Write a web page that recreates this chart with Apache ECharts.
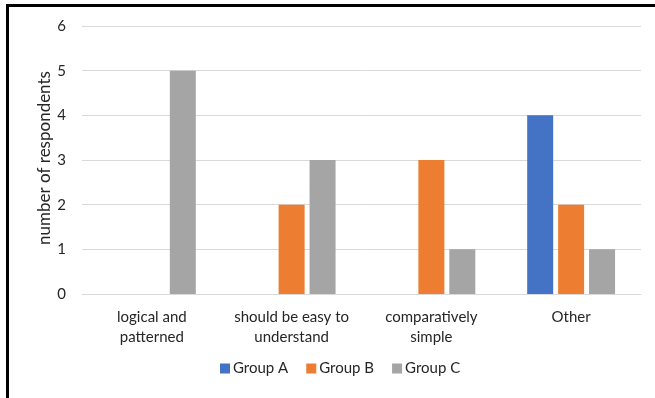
<!DOCTYPE html>
<html>
<head>
<meta charset="utf-8">
<script src="https://cdn.jsdelivr.net/npm/echarts@6/dist/echarts.min.js"></script>
<style>
  html, body { margin: 0; padding: 0; background: #fff; }
  #chart { width: 655px; height: 398px; }
</style>
</head>
<body>
<div id="chart"></div>
<script>
// Reasons given, grouped by respondent group
const categories = ['logical and\npatterned', 'should be easy to\nunderstand', 'comparatively\nsimple', 'Other'];
const groupA = [0, 0, 0, 4];
const groupB = [0, 2, 3, 2];
const groupC = [5, 3, 1, 1];
const seriesNames = ['Group A', 'Group B', 'Group C'];
const yTicks = [0, 1, 2, 3, 4, 5, 6];

const FONT = 'Lato, "Open Sans", sans-serif';
const TEXT = '#262626';

const chart = echarts.init(document.getElementById('chart'), null, { renderer: 'canvas' });

function barSeries(name, data, color) {
  return {
    name: name,
    type: 'bar',
    data: data,
    barWidth: 26,
    barGap: '19%',
    itemStyle: { color: color },
    emphasis: { disabled: true }
  };
}

chart.setOption({
  animation: false,
  backgroundColor: '#ffffff',
  grid: { left: 82, right: 14, top: 26, bottom: 104 },
  xAxis: {
    type: 'category',
    data: categories,
    axisLine: { show: true, lineStyle: { color: '#d9d9d9', width: 1 } },
    axisTick: { show: false },
    axisLabel: {
      color: TEXT, fontFamily: FONT, fontSize: 15, lineHeight: 20,
      margin: 13, interval: 0
    }
  },
  yAxis: {
    type: 'value',
    min: yTicks[0],
    max: yTicks[yTicks.length - 1],
    interval: 1,
    axisLine: { show: false },
    axisTick: { show: false },
    splitLine: { lineStyle: { color: '#d9d9d9', width: 1 } },
    axisLabel: { color: TEXT, fontFamily: FONT, fontSize: 15, margin: 16 }
  },
  legend: {
    data: seriesNames,
    bottom: 17,
    left: 215,
    icon: 'rect',
    itemWidth: 10,
    itemHeight: 10,
    itemGap: 18,
    textStyle: { color: TEXT, fontFamily: FONT, fontSize: 15, padding: [0, 0, 0, -2] }
  },
  series: [
    barSeries(seriesNames[0], groupA, '#4472C4'),
    barSeries(seriesNames[1], groupB, '#ED7D31'),
    barSeries(seriesNames[2], groupC, '#A5A5A5')
  ],
  graphic: [
    {
      type: 'text',
      x: 45, y: 158,
      rotation: Math.PI / 2,
      style: {
        text: 'number of respondents',
        fill: TEXT, font: '17px ' + FONT,
        align: 'center', verticalAlign: 'middle'
      }
    },
    // frame edges
    { type: 'rect', shape: { x: 6, y: 4, width: 649, height: 3 }, style: { fill: '#000' } },
    { type: 'rect', shape: { x: 6, y: 4, width: 3, height: 394 }, style: { fill: '#000' } }
  ]
});
</script>
</body>
</html>
